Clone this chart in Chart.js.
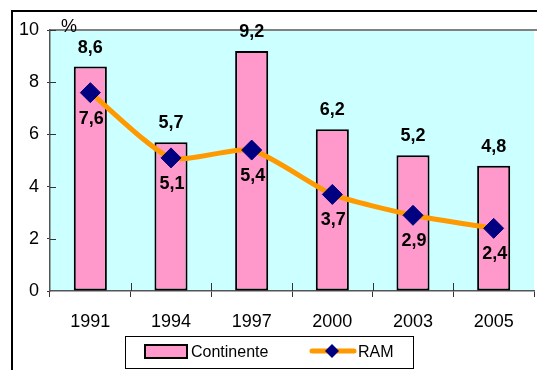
<!DOCTYPE html>
<html>
<head>
<meta charset="utf-8">
<script src="https://cdn.jsdelivr.net/npm/chart.js@4/dist/chart.umd.min.js"></script>
<style>
html,body{margin:0;padding:0;background:#fff;overflow:hidden;width:537px;height:370px;}
#wrap{position:absolute;left:0;top:0;width:545px;height:370px;}
</style>
</head>
<body>
<div id="wrap"><canvas id="c" width="545" height="370"></canvas></div>
<script>
const categories = ['1991', '1994', '1997', '2000', '2003', '2005'];
const continente = [8.6, 5.7, 9.2, 6.2, 5.2, 4.8];
const ram = [7.6, 5.1, 5.4, 3.7, 2.9, 2.4];
const yTicks = [0, 2, 4, 6, 8, 10];
const unitLabel = '%';
const seriesNames = ['Continente', 'RAM'];

const FONT = "'Liberation Sans', Arial, sans-serif";
Chart.defaults.font.family = FONT;
Chart.defaults.color = '#000';

const fmt = v => v.toFixed(1).replace('.', ',');

const framePlugin = {
  id: 'frame',
  beforeDraw(chart) {
    const ctx = chart.ctx, a = chart.chartArea;
    ctx.save();
    ctx.fillStyle = '#fff';
    ctx.fillRect(0, 0, chart.width, chart.height);
    // outer frame
    ctx.strokeStyle = '#000';
    ctx.lineWidth = 2;
    ctx.beginPath();
    ctx.moveTo(12, chart.height + 5);
    ctx.lineTo(12, 11);
    ctx.lineTo(chart.width + 5, 11);
    ctx.stroke();
    // plot background
    ctx.fillStyle = '#CCFFFF';
    ctx.fillRect(a.left, a.top, a.right - a.left, a.bottom - a.top);
    ctx.strokeStyle = '#808080';
    ctx.lineWidth = 2;
    ctx.beginPath();
    ctx.moveTo(a.left, a.top);
    ctx.lineTo(a.right + 5, a.top);
    ctx.stroke();
    ctx.restore();
  },
  afterDatasetsDraw(chart) {
    const ctx = chart.ctx, a = chart.chartArea;
    const xs = chart.scales.x, ys = chart.scales.y;
    ctx.save();
    // inner tick parts
    ctx.strokeStyle = '#333';
    ctx.lineWidth = 1;
    ctx.beginPath();
    yTicks.forEach(v => {
      if (v === 0) return;
      const y = Math.round(ys.getPixelForValue(v)) + 0.5;
      ctx.moveTo(a.left, y);
      ctx.lineTo(a.left + 6, y);
    });
    for (let i = 1; i < categories.length; i++) {
      const x = Math.round((xs.getPixelForValue(i - 1) + xs.getPixelForValue(i)) / 2) + 0.5;
      ctx.moveTo(x, a.bottom);
      ctx.lineTo(x, a.bottom - 8);
    }
    ctx.stroke();
    // value labels
    ctx.fillStyle = '#000';
    ctx.font = 'bold 18px ' + FONT;
    ctx.textAlign = 'center';
    ctx.textBaseline = 'middle';
    chart.getDatasetMeta(1).data.forEach((bar, i) => {
      ctx.fillText(fmt(continente[i]), bar.x, bar.y - 19);
    });
    chart.getDatasetMeta(0).data.forEach((pt, i) => {
      ctx.fillText(fmt(ram[i]), pt.x + 1, pt.y + 26);
    });
    // unit label
    ctx.font = '18px ' + FONT;
    ctx.textAlign = 'left';
    ctx.fillText(unitLabel, a.left + 11, a.top - 3);
    ctx.restore();
  },
  afterDraw(chart) {
    const ctx = chart.ctx;
    ctx.save();
    // legend box
    ctx.fillStyle = '#fff';
    ctx.fillRect(125, 336, 288, 32);
    ctx.strokeStyle = '#000';
    ctx.lineWidth = 1;
    ctx.strokeRect(125.5, 336.5, 288, 32);
    // bar swatch
    ctx.fillStyle = '#FF99CC';
    ctx.fillRect(145, 345, 42, 13);
    ctx.lineWidth = 2;
    ctx.strokeRect(145, 345, 42, 13);
    ctx.fillStyle = '#000';
    ctx.font = '16px ' + FONT;
    ctx.textBaseline = 'middle';
    ctx.textAlign = 'left';
    ctx.fillText(seriesNames[0], 191, 353);
    // line swatch
    ctx.strokeStyle = '#FF9900';
    ctx.lineWidth = 5;
    ctx.lineCap = 'round';
    ctx.beginPath();
    ctx.moveTo(312, 351);
    ctx.lineTo(354, 351);
    ctx.stroke();
    ctx.fillStyle = '#000080';
    ctx.beginPath();
    ctx.moveTo(332, 344);
    ctx.lineTo(339, 351);
    ctx.lineTo(332, 358);
    ctx.lineTo(325, 351);
    ctx.closePath();
    ctx.fill();
    ctx.fillStyle = '#000';
    ctx.fillText(seriesNames[1], 358, 353);
    ctx.restore();
  }
};

new Chart(document.getElementById('c'), {
  data: {
    labels: categories,
    datasets: [
      {
        type: 'line',
        label: seriesNames[1],
        data: ram,
        order: 0,
        borderColor: '#FF9900',
        borderWidth: 5,
        tension: 0.2,
        pointStyle: 'rectRot',
        pointRadius: 10,
        pointBackgroundColor: '#000080',
        pointBorderColor: '#000080',
        pointBorderWidth: 1
      },
      {
        type: 'bar',
        label: seriesNames[0],
        data: continente,
        order: 1,
        backgroundColor: '#FF99CC',
        borderColor: '#000',
        borderWidth: 2,
        borderSkipped: false,
        categoryPercentage: 1,
        barPercentage: 0.41
      }
    ]
  },
  options: {
    responsive: false,
    animation: false,
    events: [],
    layout: { padding: { top: 30, right: 6, left: 0, bottom: 0 } },
    plugins: { legend: { display: false }, tooltip: { enabled: false } },
    scales: {
      x: {
        offset: true,
        grid: { offset: true, drawOnChartArea: false, tickLength: 6, color: '#333' },
        border: { color: '#555', width: 1.5 },
        ticks: { font: { size: 18 }, color: '#000', padding: 14, maxRotation: 0 },
        afterFit(s) { s.height = 79; }
      },
      y: {
        min: 0, max: 10,
        afterBuildTicks(s) { s.ticks = yTicks.map(v => ({ value: v })); },
        grid: { drawOnChartArea: false, tickLength: 3, color: '#333' },
        border: { color: '#555', width: 1.5 },
        ticks: { font: { size: 18 }, color: '#000', padding: 8 },
        afterFit(s) { s.width = 50; }
      }
    }
  },
  plugins: [framePlugin]
});
</script>
</body>
</html>
